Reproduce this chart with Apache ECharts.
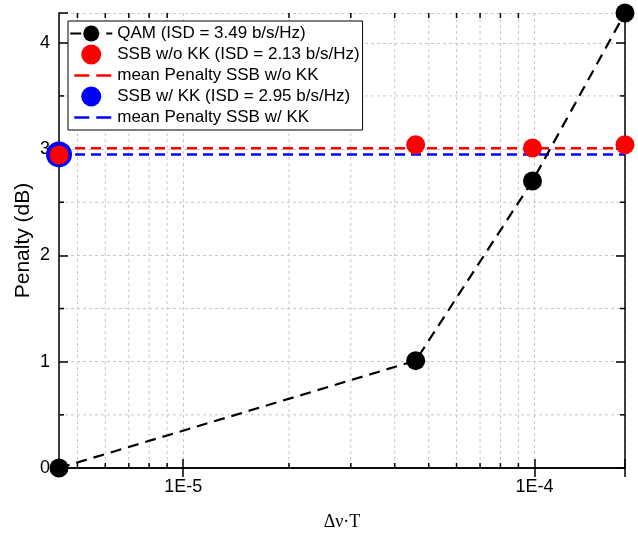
<!DOCTYPE html>
<html><head><meta charset="utf-8">
<script src="https://cdn.jsdelivr.net/npm/echarts@6/dist/echarts.min.js"></script>
<style>html,body{margin:0;padding:0;background:#fff}#c{width:638px;height:536px}</style>
</head><body><div id="c"></div>
<script>
// ---- data ----
const xMin = 4.43e-6, xMax = 1.81e-4;
const yMin = 0, yMax = 4.28;
const qamX = [4.43e-6, 4.59e-5, 9.87e-5, 1.81e-4];
const qamY = [0, 1.01, 2.70, 4.28];
const ssbNoKKX = [4.43e-6, 4.59e-5, 9.87e-5, 1.81e-4];
const ssbNoKKY = [2.945, 3.04, 3.01, 3.04];
const ssbKKX = [4.43e-6];
const ssbKKY = [2.95];
const meanNoKK = 3.007;
const meanKK = 2.95;
const xMinorTicks = [5e-6, 6e-6, 7e-6, 8e-6, 9e-6, 2e-5, 3e-5, 4e-5, 5e-5, 6e-5, 7e-5, 8e-5, 9e-5];
const yMinorTicks = [0.5, 1.5, 2.5, 3.5];
const seriesNames = ['QAM (ISD = 3.49 b/s/Hz)', 'SSB w/o KK (ISD = 2.13 b/s/Hz)', 'mean Penalty SSB w/o KK', 'SSB w/ KK (ISD = 2.95 b/s/Hz)', 'mean Penalty SSB w/ KK'];
const xName = 'Δν·T';
const yName = 'Penalty (dB)';

// ---- chart ----
const SANS = '"Liberation Sans", Arial, sans-serif';
const GRID_COLOR = '#c8c8c8';
const zip = (a, b) => a.map((v, i) => [v, b[i]]);

function minorXRender(params, api) {
  const cs = params.coordSys;
  const x = api.coord([api.value(0), yMin])[0];
  const top = cs.y, bot = cs.y + cs.height;
  return { type: 'group', silent: true, children: [
    { type: 'line', shape: { x1: x, y1: top, x2: x, y2: bot }, style: { stroke: GRID_COLOR, lineWidth: 1, lineDash: [3, 3] } },
    { type: 'line', shape: { x1: x, y1: bot, x2: x, y2: bot - 5 }, style: { stroke: '#000', lineWidth: 1.5 } },
    { type: 'line', shape: { x1: x, y1: top, x2: x, y2: top + 5 }, style: { stroke: '#000', lineWidth: 1.5 } }
  ]};
}
function minorYRender(params, api) {
  const cs = params.coordSys;
  const y = api.coord([xMin, api.value(1)])[1];
  const l = cs.x, r = cs.x + cs.width;
  return { type: 'group', silent: true, children: [
    { type: 'line', shape: { x1: l, y1: y, x2: r, y2: y }, style: { stroke: GRID_COLOR, lineWidth: 1, lineDash: [3, 3] } },
    { type: 'line', shape: { x1: l, y1: y, x2: l + 5, y2: y }, style: { stroke: '#000', lineWidth: 1.5 } },
    { type: 'line', shape: { x1: r, y1: y, x2: r - 5, y2: y }, style: { stroke: '#000', lineWidth: 1.5 } }
  ]};
}

const isPow10 = v => { const e = Math.round(Math.log10(v)); return Math.abs(Math.log10(v) - e) < 1e-6 ? e : null; };

const axisLineStyle = { show: true, lineStyle: { color: '#000', width: 1.5 } };
const meanLegendLine = { type: [15, 7], dashOffset: 18, width: 2.5 };
const chart = echarts.init(document.getElementById('c'), null, { renderer: 'canvas' });
chart.setOption({
  animation: false,
  backgroundColor: '#fff',
  grid: { left: 59, right: 13, top: 13, bottom: 67, containLabel: false },
  xAxis: [
    { type: 'log', logBase: 10, min: xMin, max: xMax, position: 'bottom',
      name: xName, nameLocation: 'middle', nameGap: 45, nameMoveOverlap: false,
      nameTextStyle: { fontFamily: '"Liberation Serif", "Times New Roman", serif', fontSize: 18, color: '#000' },
      axisLine: axisLineStyle,
      axisTick: { show: true, inside: true, length: 9, lineStyle: { color: '#000', width: 1.5 } },
      axisLabel: { show: true, margin: 10, fontFamily: SANS, fontSize: 18, color: '#000',
        formatter: v => { const e = isPow10(v); return e === null ? '' : '1E' + e; } },
      splitLine: { show: true, lineStyle: { color: GRID_COLOR, width: 1, type: [3, 3] } } },
    { type: 'log', logBase: 10, min: xMin, max: xMax, position: 'top',
      axisLine: axisLineStyle,
      axisTick: { show: true, inside: true, length: 9, lineStyle: { color: '#000', width: 1.5 } },
      axisLabel: { show: false }, splitLine: { show: false } }
  ],
  yAxis: [
    { type: 'value', min: yMin, max: yMax, interval: 1, position: 'left',
      name: yName, nameLocation: 'middle', nameGap: 25, nameMoveOverlap: false,
      nameTextStyle: { fontFamily: SANS, fontSize: 21, color: '#000' },
      axisLine: axisLineStyle,
      axisTick: { show: true, inside: true, length: 9, lineStyle: { color: '#000', width: 1.5 } },
      axisLabel: { show: true, margin: 9, fontFamily: SANS, fontSize: 18, color: '#000',
        formatter: v => Math.abs(v - Math.round(v)) < 1e-9 ? String(Math.round(v)) : '' },
      splitLine: { show: true, lineStyle: { color: GRID_COLOR, width: 1, type: [3, 3] } } },
    { type: 'value', min: yMin, max: yMax, interval: 1, position: 'right',
      axisLine: axisLineStyle,
      axisTick: { show: true, inside: true, length: 9, lineStyle: { color: '#000', width: 1.5 } },
      axisLabel: { show: false }, splitLine: { show: false } }
  ],
  legend: {
    orient: 'vertical', left: 68, top: 21,
    padding: [2, 3, 2, 1], itemGap: 0, itemWidth: 42, itemHeight: 20,
    borderColor: '#000', borderWidth: 1, borderRadius: 0, backgroundColor: '#fff',
    selectedMode: false,
    textStyle: { fontFamily: SANS, fontSize: 17, lineHeight: 21, color: '#000' },
    data: [
      { name: seriesNames[0] },
      { name: seriesNames[1] },
      { name: seriesNames[2], itemStyle: { opacity: 0 }, lineStyle: meanLegendLine },
      { name: seriesNames[3] },
      { name: seriesNames[4], itemStyle: { opacity: 0 }, lineStyle: meanLegendLine }
    ]
  },
  series: [
    { type: 'custom', silent: true, z: 1, xAxisIndex: 0, yAxisIndex: 0, encode: { x: 0, y: 1 },
      renderItem: minorXRender, data: xMinorTicks.map(v => [v, yMin]) },
    { type: 'custom', silent: true, z: 1, xAxisIndex: 0, yAxisIndex: 0, encode: { x: 0, y: 1 },
      renderItem: minorYRender, data: yMinorTicks.map(v => [xMin, v]) },
    { name: seriesNames[2], type: 'line', z: 3, symbol: 'none', silent: true,
      color: '#ff0000', lineStyle: { color: '#ff0000', width: 2.5, type: [10, 6] },
      data: [[xMin, meanNoKK], [xMax, meanNoKK]] },
    { name: seriesNames[4], type: 'line', z: 3, symbol: 'none', silent: true,
      color: '#0000ff', lineStyle: { color: '#0000ff', width: 2.5, type: [10, 6] },
      data: [[xMin, meanKK], [xMax, meanKK]] },
    { name: seriesNames[0], type: 'line', z: 5, clip: false, symbol: 'circle', symbolSize: 19, showSymbol: true,
      color: '#000', itemStyle: { color: '#000' }, lineStyle: { color: '#000', width: 2.2, type: [11, 7] },
      data: zip(qamX, qamY) },
    { name: seriesNames[3], type: 'scatter', z: 6, clip: false, symbol: 'circle', symbolSize: 26,
      itemStyle: { color: '#0000ff', opacity: 1 }, data: zip(ssbKKX, ssbKKY) },
    { name: seriesNames[1], type: 'scatter', z: 7, clip: false, symbol: 'circle', symbolSize: 19,
      itemStyle: { color: '#ff0000', opacity: 1 }, data: zip(ssbNoKKX, ssbNoKKY) }
  ]
});
</script></body></html>
